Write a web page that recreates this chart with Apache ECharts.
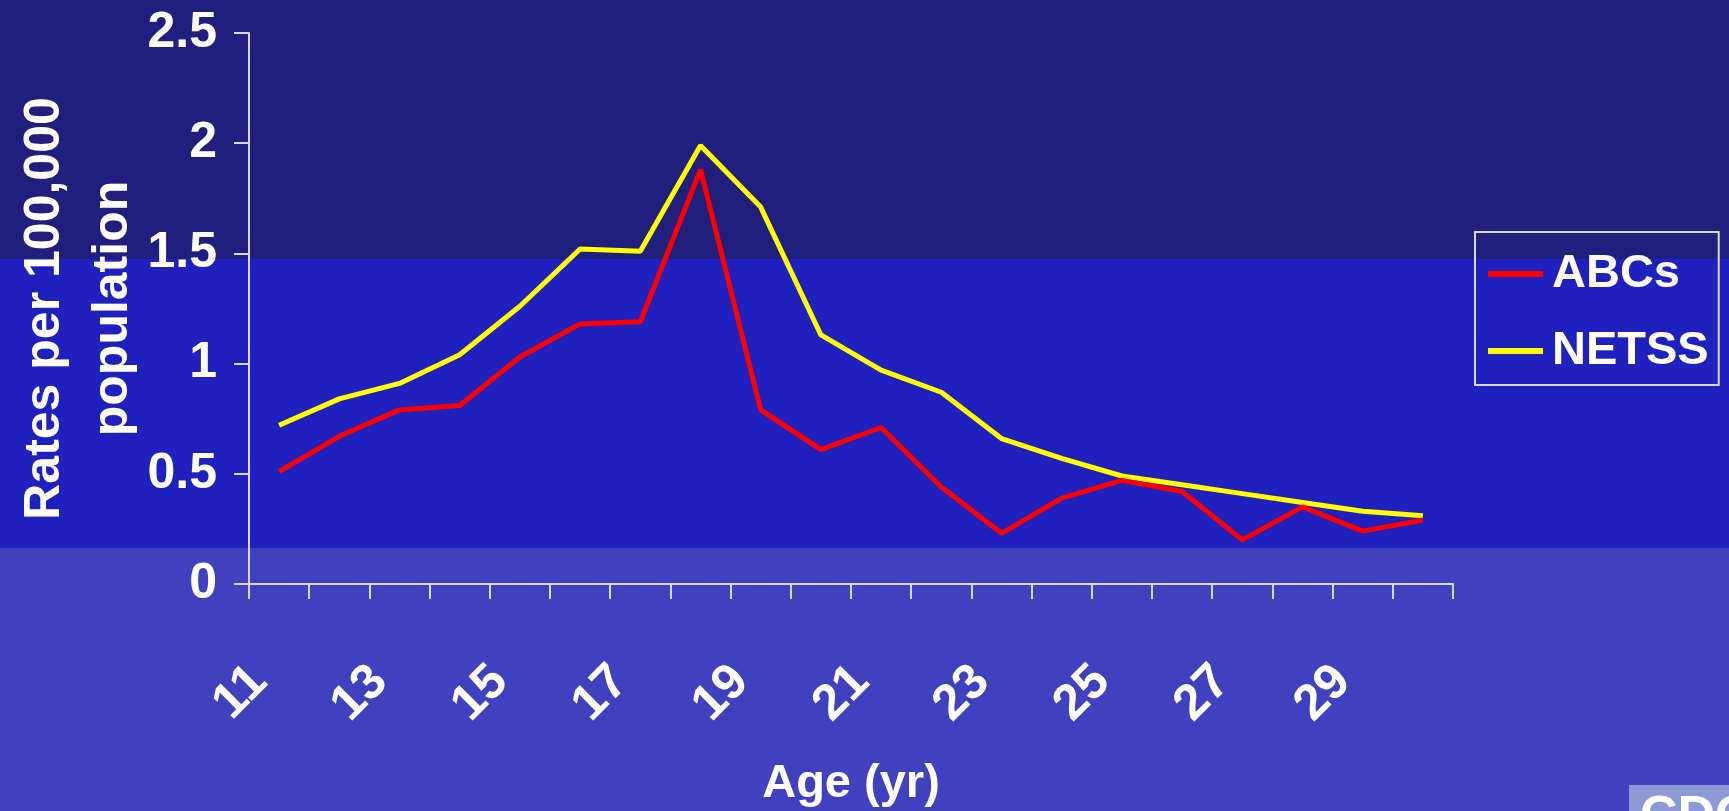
<!DOCTYPE html>
<html>
<head>
<meta charset="utf-8">
<script src="https://cdn.jsdelivr.net/npm/echarts@6/dist/echarts.min.js"></script>
<style>
html,body{margin:0;padding:0;background:#4141BF;}
#c{width:1729px;height:811px;}
</style>
</head>
<body>
<div id="c"></div>
<script>
const ages = ['11','12','13','14','15','16','17','18','19','20','21','22','23','24','25','26','27','28','29','30'];
const abcs = [0.51, 0.67, 0.79, 0.81, 1.03, 1.18, 1.19, 1.88, 0.79, 0.61, 0.71, 0.44, 0.23, 0.39, 0.47, 0.42, 0.20, 0.35, 0.24, 0.29];
const netss = [0.72, 0.84, 0.91, 1.04, 1.26, 1.52, 1.51, 1.99, 1.71, 1.13, 0.97, 0.87, 0.66, 0.57, 0.49, 0.45, 0.41, 0.37, 0.33, 0.31];
const seriesNames = ['ABCs', 'NETSS'];
const yTitle = 'Rates per 100,000\npopulation';
const xTitle = 'Age (yr)';

const FONT = '"Liberation Sans", Arial, sans-serif';
const chart = echarts.init(document.getElementById('c'), null, {renderer: 'canvas'});
chart.setOption({
  backgroundColor: '#4141BF',
  animation: false,
  graphic: [
    {type: 'rect', z: -100, silent: true, shape: {x: 0, y: 0, width: 1729, height: 259}, style: {fill: '#211F7E'}},
    {type: 'rect', z: -100, silent: true, shape: {x: 0, y: 259, width: 1729, height: 289}, style: {fill: '#2020BE'}},
    {type: 'rect', z: -100, silent: true, shape: {x: 1629, y: 785, width: 100, height: 26}, style: {fill: '#8E9AD4'}},
    {type: 'text', z: -99, silent: true, left: 1640, top: 792, style: {text: 'CDC', fill: '#ffffff', font: 'bold 52px ' + FONT}}
  ],
  grid: {left: 249, right: 276, top: 33, bottom: 227, containLabel: false, outerBoundsMode: 'none'},
  legend: {
    left: 1475, top: 232, orient: 'vertical',
    padding: [17, 10, 9, 13],
    borderColor: '#d8d8e8', borderWidth: 2,
    itemWidth: 55, itemHeight: 6, itemGap: 27,
    textStyle: {color: '#ffffff', fontSize: 47, fontWeight: 'bold', fontFamily: FONT, lineHeight: 50, padding: [0, 0, 0, 4]},
    data: [{name: seriesNames[0], icon: 'rect'}, {name: seriesNames[1], icon: 'rect'}]
  },
  xAxis: {
    type: 'category', data: ages, boundaryGap: true,
    name: xTitle, nameLocation: 'middle', nameGap: 177, nameMoveOverlap: false,
    nameTextStyle: {color: '#ffffff', fontSize: 47, fontWeight: 'bold', fontFamily: FONT},
    axisLine: {lineStyle: {color: '#d8d8e8', width: 2}},
    axisTick: {show: true, interval: 0, length: 15, lineStyle: {color: '#d8d8e8', width: 2}},
    axisLabel: {interval: 1, rotate: 45, margin: 70, padding: [0, 28, 24, 0], color: '#ffffff', fontSize: 50, fontWeight: 'bold', fontFamily: FONT},
    splitLine: {show: false}
  },
  yAxis: {
    type: 'value', min: 0, max: 2.5, interval: 0.5,
    name: yTitle, nameLocation: 'middle', nameGap: 102, nameRotate: 90, nameMoveOverlap: false,
    nameTextStyle: {color: '#ffffff', fontSize: 50, fontWeight: 'bold', fontFamily: FONT, lineHeight: 68, align: 'center'},
    axisLine: {show: true, lineStyle: {color: '#d8d8e8', width: 2}},
    axisTick: {show: true, length: 15, lineStyle: {color: '#d8d8e8', width: 2}},
    axisLabel: {margin: 32, color: '#ffffff', fontSize: 50, fontWeight: 'bold', fontFamily: FONT},
    splitLine: {show: false}
  },
  series: [
    {name: seriesNames[0], type: 'line', data: abcs, symbol: 'none', lineStyle: {color: '#FF0000', width: 5}, itemStyle: {color: '#FF0000'}, z: 3},
    {name: seriesNames[1], type: 'line', data: netss, symbol: 'none', lineStyle: {color: '#FFFF00', width: 5}, itemStyle: {color: '#FFFF00'}, z: 2}
  ]
});
</script>
</body>
</html>
